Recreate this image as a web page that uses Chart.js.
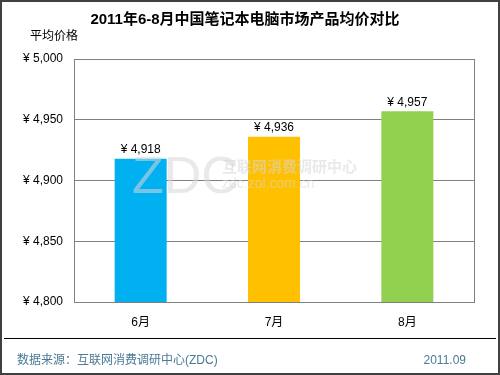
<!DOCTYPE html>
<html>
<head>
<meta charset="utf-8">
<script src="https://cdn.jsdelivr.net/npm/chart.js@4"></script>
<style>
  body { margin: 0; background: #fff; }
  canvas { display: block; }
</style>
</head>
<body>
<canvas id="myChart" width="500" height="375"></canvas>
<script>
// chart data
const months = ['6月', '7月', '8月'];
const avgPrice = [4918, 4936, 4957];
const barColors = ['#00B0F0', '#FFC000', '#92D050'];
const yMin = 4800, yMax = 5000, yStep = 50;

const titleText = '2011年6-8月中国笔记本电脑市场产品均价对比';
const yTitle = '平均价格';
const sourceText = '数据来源：互联网消费调研中心(ZDC)';
const dateText = '2011.09';

const FONT = '"Liberation Sans", Arial, "Noto Sans CJK SC", sans-serif';

let yen = v => '¥ ' + v.toLocaleString('en-US');

// extra drawing: titles, box, labels, watermark, footer
let decor = {
  id: 'decor',
  afterDatasetsDraw(chart) {
    let ctx = chart.ctx;
    ctx.save();
    // watermark, faint, over the bars
    ctx.fillStyle = 'rgba(215,215,215,0.55)';
    ctx.font = '52px ' + FONT;
    ctx.textBaseline = 'alphabetic';
    ctx.fillText('ZDC', 132, 193);
    ctx.font = 'bold 15px ' + FONT;
    ctx.fillText('互联网消费调研中心', 222, 172);
    ctx.font = '14px ' + FONT;
    ctx.fillText('zdc.zol.com.cn', 222, 188);
    ctx.restore();
  },
  afterDraw(chart) {
    let ctx = chart.ctx;
    let a = chart.chartArea;
    ctx.save();
    // plot box
    ctx.strokeStyle = '#808080';
    ctx.lineWidth = 1;
    ctx.strokeRect(Math.round(a.left) + 0.5, Math.round(a.top) + 0.5,
      Math.round(a.right - a.left), Math.round(a.bottom - a.top));

    // value labels
    let meta = chart.getDatasetMeta(0);
    ctx.fillStyle = '#000';
    ctx.font = '12px ' + FONT;
    ctx.textAlign = 'center';
    ctx.textBaseline = 'bottom';
    meta.data.forEach((bar, i) => {
      ctx.fillText(yen(avgPrice[i]), bar.x, bar.y - 3);
    });

    // title
    ctx.font = 'bold 15px ' + FONT;
    ctx.textBaseline = 'middle';
    ctx.fillText(titleText, 245, 20);

    // y axis title
    ctx.font = '12px ' + FONT;
    ctx.textAlign = 'left';
    ctx.fillText(yTitle, 30, 37);

    // footer line
    ctx.strokeStyle = '#000';
    ctx.beginPath();
    ctx.moveTo(4, 338.5);
    ctx.lineTo(496, 338.5);
    ctx.stroke();

    // footer texts
    ctx.fillStyle = '#4A7A94';
    ctx.font = '12px ' + FONT;
    ctx.fillText(sourceText, 17, 361);
    ctx.textAlign = 'right';
    ctx.fillText(dateText, 466, 361);

    // outer frame
    ctx.strokeStyle = '#404040';
    ctx.lineWidth = 2;
    ctx.strokeRect(1, 1, 498, 373);
    ctx.restore();
  }
};

new Chart(document.getElementById('myChart'), {
  type: 'bar',
  data: {
    labels: months,
    datasets: [{
      data: avgPrice,
      backgroundColor: barColors,
      barPercentage: 0.39,
      categoryPercentage: 1
    }]
  },
  options: {
    responsive: false,
    animation: false,
    layout: { padding: { top: 59, right: 26, left: 0, bottom: 0 } },
    plugins: {
      legend: { display: false },
      tooltip: { enabled: false }
    },
    scales: {
      x: {
        grid: { display: false, drawTicks: false },
        border: { display: false },
        ticks: { color: '#000', font: { family: FONT, size: 12 }, padding: 13 },
        afterFit: s => { s.height = 73; }
      },
      y: {
        min: yMin,
        max: yMax,
        grid: { color: '#808080', drawTicks: false },
        border: { display: false },
        ticks: {
          stepSize: yStep,
          color: '#000',
          padding: 11,
          font: { family: FONT, size: 12 },
          callback: v => yen(v)
        },
        afterFit: s => { s.width = 74; }
      }
    }
  },
  plugins: [decor]
});
</script>
</body>
</html>
